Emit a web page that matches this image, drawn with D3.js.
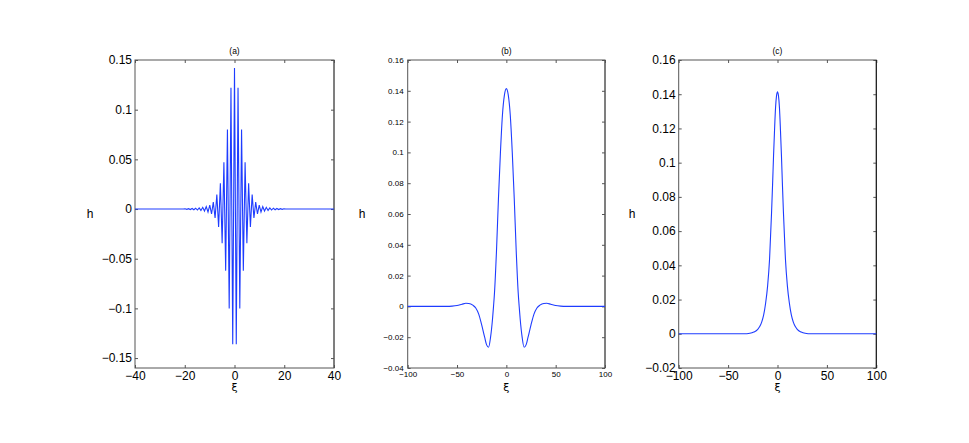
<!DOCTYPE html>
<html>
<head>
<meta charset="utf-8">
<script src="https://cdn.jsdelivr.net/npm/d3@7/dist/d3.min.js"></script>
<style>
	body { margin: 0; background: #fff; }
	svg { display: block; }
	text { font-family: "Liberation Sans", Arial, sans-serif; fill: #000; }
</style>
</head>
<body>
<svg width="969" height="443"></svg>
<script>
'use strict';

// (a) extrema of the wave packet, read from the centre outward (spacing in xi)
const stepA = 0.71;
const extremaA = [0.142, -0.136, 0.122, -0.100, 0.080, -0.062, 0.047, -0.0345, 0.026, -0.018,
	0.0145, -0.009, 0.007, -0.005, 0.004, -0.003, 0.0025, -0.002, 0.0017, -0.0014,
	0.0012, -0.001, 0.0008, -0.0007, 0.0006, -0.0005, 0.0004, -0.0003, 0.0002, 0];

// (b) half profile, xi >= 0 (curve is symmetric)
const xiB = [0, 2, 4, 6, 8, 10, 12, 13, 14, 16, 18, 20, 22, 25, 28, 31, 34, 38, 41, 45, 50, 55, 60, 100];
const hB = [0.1414, 0.137, 0.124, 0.100, 0.070, 0.036, 0.009, 0, -0.008, -0.020, -0.0265, -0.025,
	-0.020, -0.012, -0.005, -0.001, 0.0008, 0.0019, 0.002, 0.0014, 0.0006, 0.0002, 0, 0];

// (c) half profile, xi >= 0
const xiC = [0, 1, 2, 3, 4, 5, 6, 8, 10, 12, 14, 16, 18, 20, 24, 28, 34, 100];
const hC = [0.1414, 0.139, 0.132, 0.119, 0.104, 0.087, 0.071, 0.044, 0.028, 0.018, 0.011,
	0.0068, 0.0042, 0.0026, 0.001, 0.0003, 0, 0];

const titles = ["(a)", "(b)", "(c)"];
const xTicksA = [-40, -20, 0, 20, 40];
const yTicksA = [-0.15, -0.1, -0.05, 0, 0.05, 0.1, 0.15];
const xTicksBC = [-100, -50, 0, 50, 100];
const yTicksB = [-0.04, -0.02, 0, 0.02, 0.04, 0.06, 0.08, 0.1, 0.12, 0.14, 0.16];
const yTicksC = [-0.02, 0, 0.02, 0.04, 0.06, 0.08, 0.1, 0.12, 0.14, 0.16];

function mirror(xs, ys) {
	const pts = [];
	for (let i = xs.length - 1; i > 0; i--) pts.push([-xs[i], ys[i]]);
	for (let i = 0; i < xs.length; i++) pts.push([xs[i], ys[i]]);
	return pts;
}

const xiA = extremaA.map((d, i) => i * stepA).concat([40]);
const hA = extremaA.concat([0]);

const panels = [
	{ title: titles[0], x0: 135, x1: 334, xDom: [-40, 40], yDom: [-0.16, 0.15], xt: xTicksA, yt: yTicksA,
		font: 12, pts: mirror(xiA, hA), curve: d3.curveLinear, hx: 90, edge: "#555" },
	{ title: titles[1], x0: 407.7, x1: 605, xDom: [-100, 100], yDom: [-0.04, 0.16], xt: xTicksBC, yt: yTicksB,
		font: 8, pts: mirror(xiB, hB), curve: d3.curveMonotoneX, hx: 362, edge: "#555" },
	{ title: titles[2], x0: 678.7, x1: 876.3, xDom: [-100, 100], yDom: [-0.02, 0.16], xt: xTicksBC, yt: yTicksC,
		font: 12, pts: mirror(xiC, hC), curve: d3.curveMonotoneX, hx: 632, edge: "#111" }
];

const fmt = d => {
	if (d === 0) return "0";
	const s = String(+Math.abs(d).toFixed(2));
	return (d < 0 ? "\u2212" : "") + s;
};

const svg = d3.select("svg");
svg.append("rect").attr("width", 969).attr("height", 443).attr("fill", "#fff");

const plotTop = 60, plotBottom = 368;

panels.forEach(p => {
	const x = d3.scaleLinear().domain(p.xDom).range([p.x0, p.x1]);
	const y = d3.scaleLinear().domain(p.yDom).range([plotBottom, plotTop]);
	const g = svg.append("g");

	const styleAxis = sel => {
		sel.selectAll(".domain").remove();
		sel.selectAll(".tick line").attr("stroke", "#555");
		sel.selectAll("text").attr("font-size", p.font).attr("font-family", "Liberation Sans, Arial, sans-serif");
	};

	g.append("g").attr("transform", `translate(0,${plotBottom})`)
		.call(d3.axisBottom(x).tickValues(p.xt).tickSize(-3).tickSizeOuter(0).tickPadding(p.font > 10 ? 3 : 3).tickFormat(fmt))
		.call(styleAxis);
	g.append("g").attr("transform", `translate(0,${plotTop})`)
		.call(d3.axisTop(x).tickValues(p.xt).tickSize(-3).tickSizeOuter(0).tickFormat(""))
		.call(styleAxis);
	g.append("g").attr("transform", `translate(${p.x0},0)`)
		.call(d3.axisLeft(y).tickValues(p.yt).tickSize(-3).tickSizeOuter(0).tickPadding(p.font > 10 ? 3 : 4).tickFormat(fmt))
		.call(styleAxis);
	g.append("g").attr("transform", `translate(${p.x1},0)`)
		.call(d3.axisRight(y).tickValues(p.yt).tickSize(-3).tickSizeOuter(0).tickFormat(""))
		.call(styleAxis);

	g.append("rect")
		.attr("x", p.x0).attr("y", plotTop)
		.attr("width", p.x1 - p.x0).attr("height", plotBottom - plotTop)
		.attr("fill", "none").attr("stroke", "#555").attr("stroke-width", 1);
	g.append("line")
		.attr("x1", p.x1).attr("x2", p.x1).attr("y1", plotTop).attr("y2", plotBottom)
		.attr("stroke", p.edge).attr("stroke-width", 1);

	const line = d3.line()
		.x(d => x(d[0]))
		.y(d => y(d[1]))
		.curve(p.curve);

	g.append("path")
		.datum(p.pts)
		.attr("fill", "none")
		.attr("stroke", "#1e3cff")
		.attr("stroke-width", 1.1)
		.attr("d", line);

	g.append("text")
		.attr("x", (p.x0 + p.x1) / 2).attr("y", 54)
		.attr("text-anchor", "middle").attr("font-size", 8.5)
		.text(p.title);

	g.append("text")
		.attr("x", p.hx).attr("y", 218)
		.attr("text-anchor", "middle").attr("font-size", 12)
		.text("h");

	g.append("text")
		.attr("x", x(0)).attr("y", 390.5)
		.attr("text-anchor", "middle").attr("font-size", 11)
		.style("font-family", "DejaVu Sans, sans-serif")
		.text("\u03BE");
});
</script>
</body>
</html>
